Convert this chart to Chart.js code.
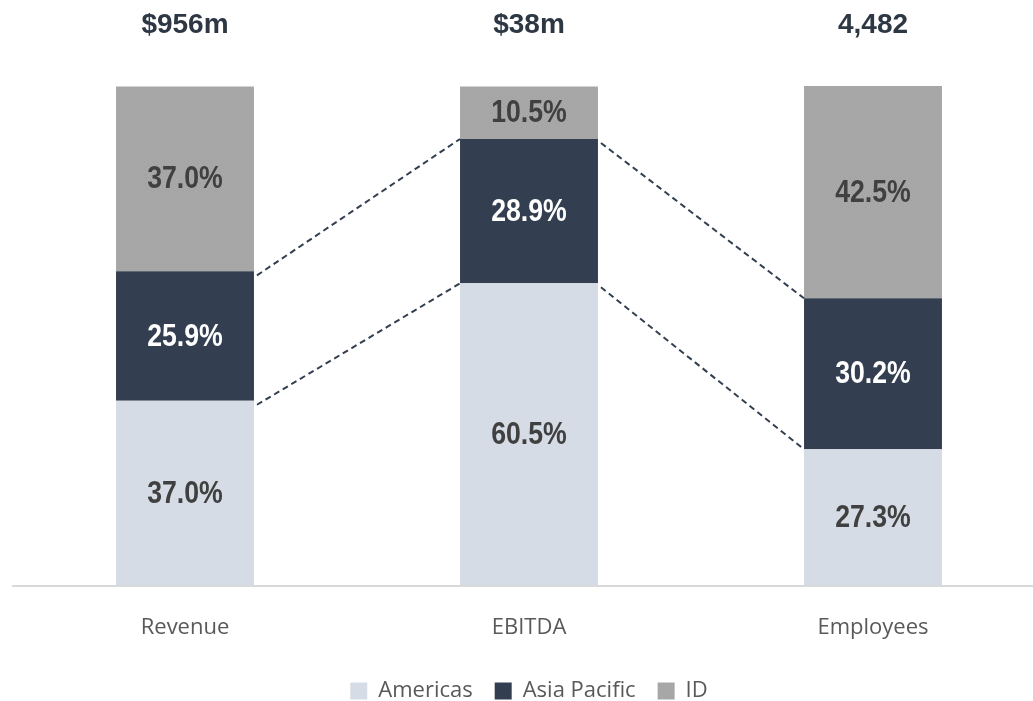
<!DOCTYPE html>
<html lang="en">
<head>
  <meta charset="UTF-8">
  <title>Regional split</title>
  <script src="https://cdn.jsdelivr.net/npm/chart.js"></script>
  <style>
    html, body { margin: 0; padding: 0; background: #fff; overflow: hidden; }
    #wrap { width: 1033px; height: 701px; overflow: hidden; }
    #box { width: 1045px; height: 701px; }
  </style>
</head>
<body>
  <div id="wrap"><div id="box"><canvas id="chart"></canvas></div></div>

  <script>
    // categories and totals
    const categories = ['Revenue', 'EBITDA', 'Employees'];
    const totals = ['$956m', '$38m', '4,482'];

    // share by region (%)
    const americas = [37.0, 60.5, 27.3];
    const asiaPacific = [25.9, 28.9, 30.2];
    const idShare = [37.0, 10.5, 42.5];

    // grey fill with a fine grain, like the original
    function grainPattern() {
      const rows = [
        '21302130',
        '03120312',
        '12031023',
        '30213201',
        '23102130',
        '01320213',
        '32013021',
        '10231302'
      ];
      const shades = ['#a1a1a1', '#a5a5a5', '#a8a8a8', '#acacac'];
      const c = document.createElement('canvas');
      c.width = 8; c.height = 8;
      const g = c.getContext('2d');
      rows.forEach((r, y) => {
        for (let x = 0; x < r.length; x++) {
          g.fillStyle = shades[+r[x]];
          g.fillRect(x, y, 1, 1);
        }
      });
      return g.createPattern(c, 'repeat');
    }

    // labels inside the segments + totals on top + dashed connectors
    const extras = {
      id: 'extras',
      afterDatasetsDraw(chart) {
        const ctx = chart.ctx;
        ctx.save();

        // dashed connectors between neighbouring bars
        ctx.strokeStyle = '#333f50';
        ctx.lineWidth = 2;
        ctx.setLineDash([6, 4]);
        [0, 1].forEach(di => {
          const els = chart.getDatasetMeta(di).data;
          for (let i = 0; i < els.length - 1; i++) {
            const a = els[i], b = els[i + 1];
            ctx.beginPath();
            ctx.moveTo(a.x + a.width / 2 + 3, a.y + 4);
            ctx.lineTo(b.x - b.width / 2, b.y);
            ctx.stroke();
          }
        });
        ctx.setLineDash([]);

        // value labels (a bit narrow, like the source)
        ctx.textAlign = 'center';
        ctx.textBaseline = 'middle';
        ctx.font = 'bold 31px "Liberation Sans", Arial, sans-serif';
        chart.data.datasets.forEach((ds, di) => {
          chart.getDatasetMeta(di).data.forEach((el, i) => {
            ctx.fillStyle = di === 1 ? '#ffffff' : '#404040';
            ctx.save();
            ctx.translate(el.x, (el.y + el.base) / 2 + 1);
            ctx.scale(0.86, 1);
            ctx.fillText(ds.data[i].toFixed(1) + '%', 0, 0);
            ctx.restore();
          });
        });

        // totals above the bars
        ctx.font = 'bold 28px "Liberation Sans", Arial, sans-serif';
        ctx.fillStyle = '#2e3744';
        chart.getDatasetMeta(0).data.forEach((el, i) => {
          ctx.fillText(totals[i], el.x, 25);
        });
        ctx.restore();
      }
    };

    const ctx = document.getElementById('chart').getContext('2d');
    new Chart(ctx, {
      type: 'bar',
      data: {
        labels: categories,
        datasets: [
          { label: 'Americas', data: americas, backgroundColor: '#d6dce5' },
          { label: 'Asia Pacific', data: asiaPacific, backgroundColor: '#333f50' },
          { label: 'ID', data: idShare, backgroundColor: grainPattern() }
        ]
      },
      options: {
        responsive: true,
        maintainAspectRatio: false,
        animation: false,
        layout: { padding: { top: 86, left: 13, right: 0, bottom: -11 } },
        datasets: { bar: { categoryPercentage: 1, barPercentage: 0.401, borderWidth: 0 } },
        scales: {
          x: {
            stacked: true,
            grid: { display: false },
            border: { display: true, color: '#d9d9d9', width: 2 },
            ticks: { color: '#595959', font: { family: '"Open Sans"', size: 22 }, padding: 21 },
            afterFit(scale) { scale.height -= 4; }
          },
          y: { stacked: true, display: false, min: 0, max: 100 }
        },
        plugins: {
          legend: {
            position: 'bottom',
            labels: {
              color: '#595959',
              font: { family: '"Open Sans"', size: 22 },
              boxWidth: 17,
              boxHeight: 17,
              padding: 22
            }
          },
          tooltip: { enabled: false }
        }
      },
      plugins: [extras]
    });
  </script>
</body>
</html>
